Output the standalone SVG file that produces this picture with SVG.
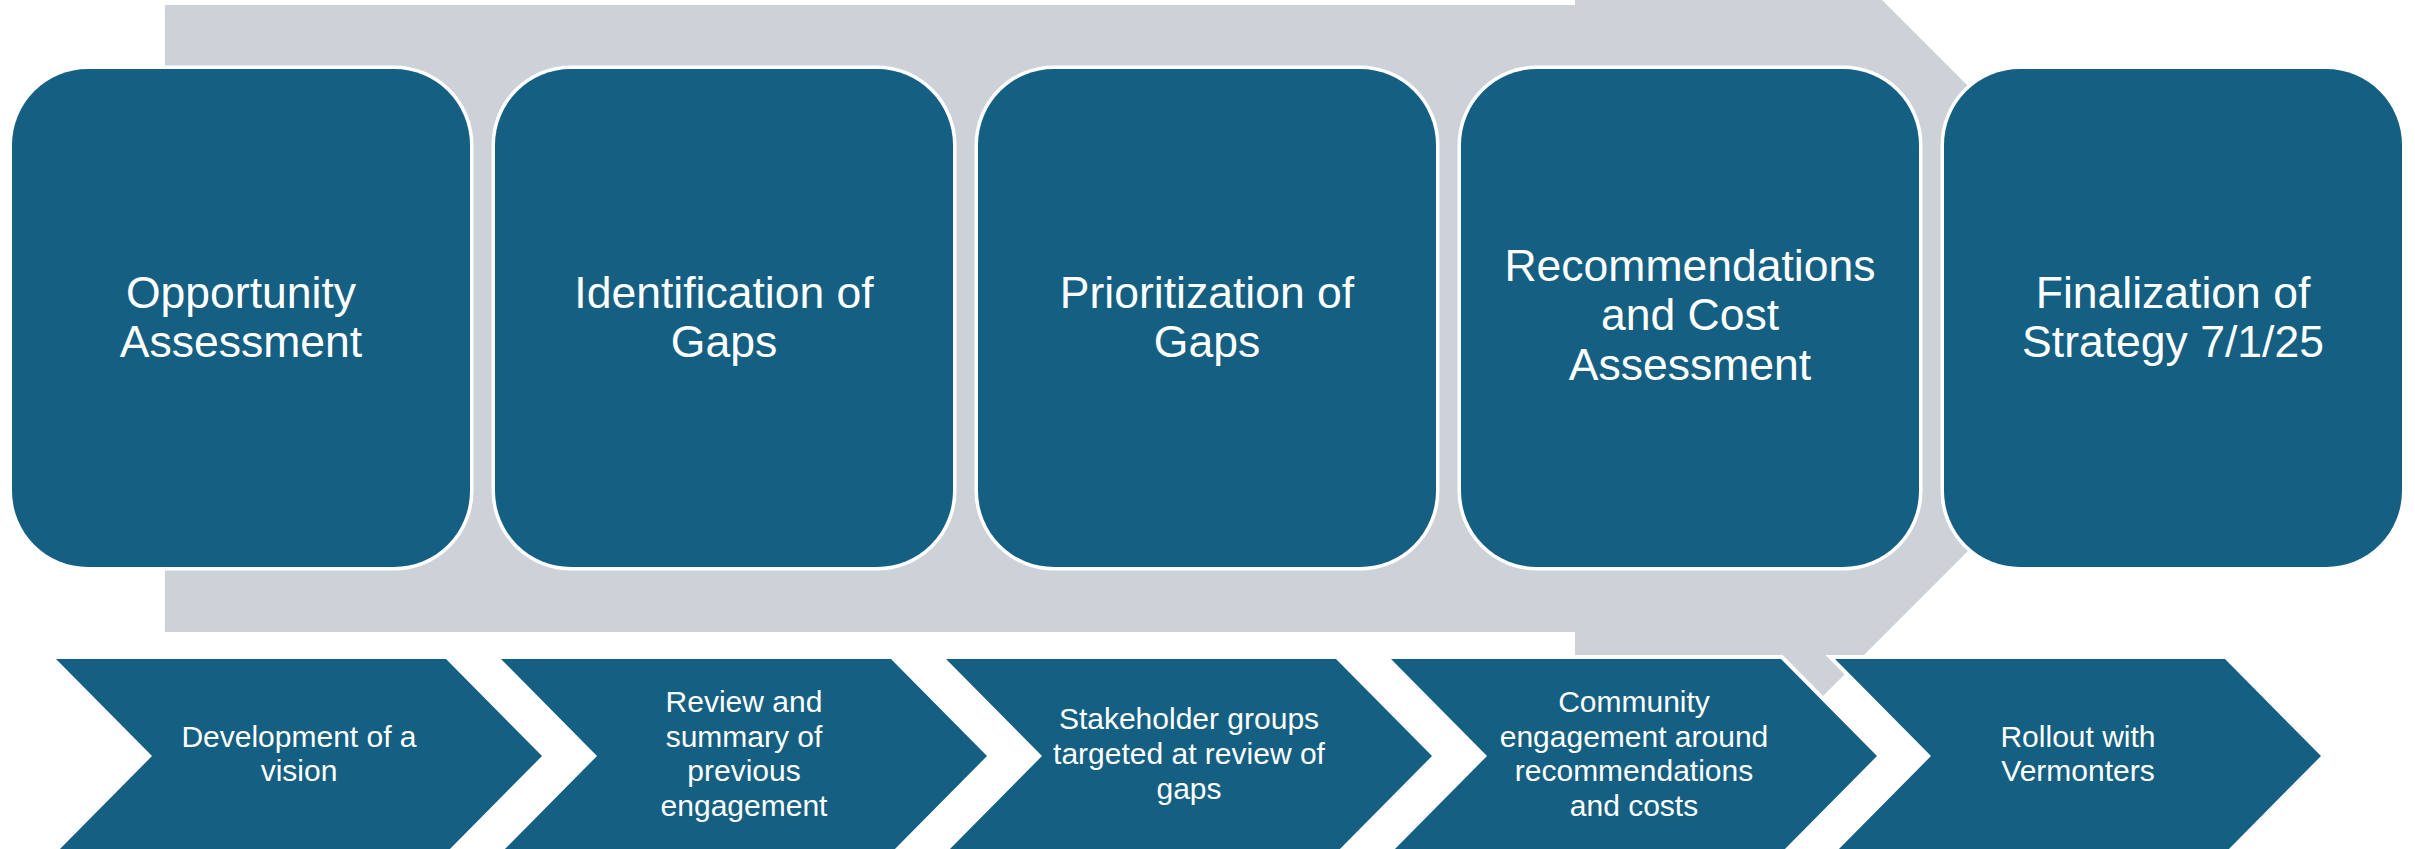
<svg xmlns="http://www.w3.org/2000/svg" width="2415" height="849" viewBox="0 0 2415 849">
  <style>
    .bg { fill: #FFFFFF; }
    .arrow { fill: #CDD2D9; }
    .box { fill: #156082; stroke: #FFFFFF; stroke-width: 7; paint-order: stroke; }
    .chev { fill: #156082; stroke: #FFFFFF; stroke-width: 8; stroke-linejoin: miter; paint-order: stroke; }
    .bt { font-family: "Liberation Sans", Arial, sans-serif; font-size: 44.5px; fill: #FFFFFF; text-anchor: middle; }
    .ct { font-family: "Liberation Sans", Arial, sans-serif; font-size: 30px; fill: #FFFFFF; text-anchor: middle; }
  </style>
  <rect class="bg" x="0" y="0" width="2415" height="849"/>

  <g id="connectors">
    <polygon id="timeline-arrow" class="arrow" points="165,5 1575,5 1575,-307 2200.5,318.5 1575,944 1575,632 165,632"/>
  </g>

  <g id="step1">
    <rect class="box" x="12" y="69" width="458" height="498" rx="76" ry="76"/>
    <text class="bt" x="241" y="307.5">Opportunity</text>
    <text class="bt" x="241" y="356.5">Assessment</text>
  </g>
  <g id="step2">
    <rect class="box" x="495" y="69" width="458" height="498" rx="76" ry="76"/>
    <text class="bt" x="724" y="307.5">Identification of</text>
    <text class="bt" x="724" y="356.5">Gaps</text>
  </g>
  <g id="step3">
    <rect class="box" x="978" y="69" width="458" height="498" rx="76" ry="76"/>
    <text class="bt" x="1207" y="307.5">Prioritization of</text>
    <text class="bt" x="1207" y="356.5">Gaps</text>
  </g>
  <g id="step4">
    <rect class="box" x="1461" y="69" width="458" height="498" rx="76" ry="76"/>
    <text class="bt" x="1690" y="281">Recommendations</text>
    <text class="bt" x="1690" y="330">and Cost</text>
    <text class="bt" x="1690" y="380">Assessment</text>
  </g>
  <g id="step5">
    <rect class="box" x="1944" y="69" width="458" height="498" rx="76" ry="76"/>
    <text class="bt" x="2173" y="307.5">Finalization of</text>
    <text class="bt" x="2173" y="356.5">Strategy 7/1/25</text>
  </g>

  <g id="activity1">
    <polygon class="chev" points="56,659 446,659 542,756 446,853 56,853 152,756"/>
    <text class="ct" x="299" y="746.6">Development of a</text>
    <text class="ct" x="299" y="781.4">vision</text>
  </g>
  <g id="activity2">
    <polygon class="chev" points="501,659 891,659 987,756 891,853 501,853 597,756"/>
    <text class="ct" x="744" y="711.8">Review and</text>
    <text class="ct" x="744" y="746.6">summary of</text>
    <text class="ct" x="744" y="781.4">previous</text>
    <text class="ct" x="744" y="816.2">engagement</text>
  </g>
  <g id="activity3">
    <polygon class="chev" points="946,659 1336,659 1432,756 1336,853 946,853 1042,756"/>
    <text class="ct" x="1189" y="729.2">Stakeholder groups</text>
    <text class="ct" x="1189" y="764">targeted at review of</text>
    <text class="ct" x="1189" y="798.8">gaps</text>
  </g>
  <g id="activity4">
    <polygon class="chev" points="1391,659 1781,659 1877,756 1781,853 1391,853 1487,756"/>
    <text class="ct" x="1634" y="711.8">Community</text>
    <text class="ct" x="1634" y="746.6">engagement around</text>
    <text class="ct" x="1634" y="781.4">recommendations</text>
    <text class="ct" x="1634" y="816.2">and costs</text>
  </g>
  <g id="activity5">
    <polygon class="chev" points="1835,659 2225,659 2321,756 2225,853 1835,853 1931,756"/>
    <text class="ct" x="2078" y="746.6">Rollout with</text>
    <text class="ct" x="2078" y="781.4">Vermonters</text>
  </g>
</svg>
